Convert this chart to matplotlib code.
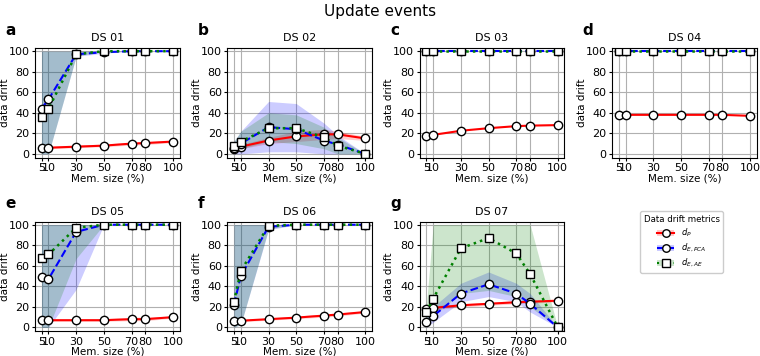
import numpy as np
import matplotlib
matplotlib.use('Agg')
import matplotlib.pyplot as plt
from matplotlib.lines import Line2D
from matplotlib.patches import Patch

# memory sizes (%)
mem = [5, 10, 30, 50, 70, 80, 100]
xtick_labels = ['5', '10', '30', '50', '70', '80', '100']
titles = ['DS 01', 'DS 02', 'DS 03', 'DS 04', 'DS 05', 'DS 06', 'DS 07']
letters = ['a', 'b', 'c', 'd', 'e', 'f', 'g']

# d_P  (mean, low, high)
dp_mean = [
    [6, 6, 7, 8, 10, 10.5, 12],
    [5, 7, 13, 17, 19, 19, 15],
    [17, 18.5, 22.5, 25, 27, 27.5, 28],
    [38, 38, 38, 38, 38, 38, 37],
    [7, 7, 7, 7, 8, 8, 10],
    [6, 6.5, 8, 9.5, 11.5, 12.5, 15],
    [18, 19, 21.5, 23, 24.5, 25, 26],
]
dp_lo = [
    [5, 5, 6, 7, 8.5, 9, 11],
    [3, 5, 10, 12, 14, 15, 13],
    [17, 18.5, 22.5, 25, 27, 27.5, 28],
    [38, 38, 38, 38, 38, 38, 37],
    [6, 6, 6, 6, 6.5, 6.5, 9],
    [5, 5.5, 7, 8.5, 10, 11, 14],
    [16, 17, 20, 21.5, 23, 23.5, 25],
]
dp_hi = [
    [7, 7, 8.5, 9.5, 11.5, 12, 13],
    [7, 9, 16, 22, 24, 22, 17],
    [17, 18.5, 22.5, 25, 27, 27.5, 28],
    [38, 38, 38, 38, 38, 38, 37],
    [8, 8, 8, 8.5, 10, 10, 11],
    [7, 7.5, 9, 11, 13, 14, 16],
    [20, 21, 23, 24.5, 26, 26.5, 27],
]

# d_E,PCA
pca_mean = [
    [44, 53, 97, 99, 100, 100, 100],
    [6, 10, 26, 24, 13, 9, 0],
    [100, 100, 100, 100, 100, 100, 100],
    [100, 100, 100, 100, 100, 100, 100],
    [49, 47, 93, 100, 100, 100, 100],
    [22, 50, 98, 100, 100, 100, 100],
    [5, 11, 33, 42, 33, 23, 0],
]
pca_lo = [
    [0, 0, 95, 98, 100, 100, 100],
    [0, 0, 2, 2, 0, 0, 0],
    [100, 100, 100, 100, 100, 100, 100],
    [100, 100, 100, 100, 100, 100, 100],
    [0, 0, 37, 100, 100, 100, 100],
    [0, 3, 95, 100, 100, 100, 100],
    [0, 5, 25, 30, 25, 15, 0],
]
pca_hi = [
    [100, 100, 100, 100, 100, 100, 100],
    [12, 22, 51, 49, 30, 18, 0],
    [100, 100, 100, 100, 100, 100, 100],
    [100, 100, 100, 100, 100, 100, 100],
    [100, 100, 100, 100, 100, 100, 100],
    [100, 100, 100, 100, 100, 100, 100],
    [10, 20, 43, 54, 43, 33, 0],
]

# d_E,AE
ae_mean = [
    [36, 44, 97, 100, 100, 100, 100],
    [8, 12, 25, 25, 16, 8, 0],
    [100, 100, 100, 100, 100, 100, 100],
    [100, 100, 100, 100, 100, 100, 100],
    [68, 71, 97, 100, 100, 100, 100],
    [25, 55, 99, 100, 100, 100, 100],
    [15, 28, 77, 87, 72, 52, 0],
]
ae_lo = [
    [0, 0, 95, 100, 100, 100, 100],
    [3, 5, 12, 10, 5, 0, 0],
    [100, 100, 100, 100, 100, 100, 100],
    [100, 100, 100, 100, 100, 100, 100],
    [0, 0, 67, 100, 100, 100, 100],
    [0, 3, 96, 100, 100, 100, 100],
    [5, 12, 33, 36, 30, 20, 0],
]
ae_hi = [
    [100, 100, 100, 100, 100, 100, 100],
    [12, 22, 40, 38, 26, 16, 0],
    [100, 100, 100, 100, 100, 100, 100],
    [100, 100, 100, 100, 100, 100, 100],
    [100, 100, 100, 100, 100, 100, 100],
    [100, 100, 100, 100, 100, 100, 100],
    [20, 100, 100, 100, 100, 100, 0],
]

fig, axes = plt.subplots(2, 4, figsize=(7.6, 3.56), dpi=100)
fig.subplots_adjust(left=0.046, right=0.9957, top=0.864, bottom=0.07,
                    wspace=0.33, hspace=0.59)
fig.suptitle('Update events', fontsize=11, y=0.99)

mk = dict(markerfacecolor='white', markeredgecolor='black', markersize=6,
          markeredgewidth=1)

for i, ax in enumerate(axes.flat[:7]):
    ax.fill_between(mem, dp_lo[i], dp_hi[i], color='red', alpha=0.2, lw=0)
    ax.fill_between(mem, pca_lo[i], pca_hi[i], color='blue', alpha=0.2, lw=0)
    ax.fill_between(mem, ae_lo[i], ae_hi[i], color='green', alpha=0.2, lw=0)
    ax.plot(mem, dp_mean[i], '-', color='red', marker='o', lw=1.5, **mk)
    ax.plot(mem, pca_mean[i], '--', color='blue', marker='o', lw=1.5, **mk)
    ax.plot(mem, ae_mean[i], ':', color='green', marker='s', lw=1.8, **mk)
    ax.set_xticks(mem)
    ax.set_xticklabels(xtick_labels)
    ax.set_yticks([0, 20, 40, 60, 80, 100])
    ax.set_ylim(-3.6, 102.7)
    ax.tick_params(labelsize=8, length=2.5, pad=1.5)
    ax.grid(True, color='#b0b0b0', lw=0.8)
    ax.set_axisbelow(True)
    ax.set_title(titles[i], fontsize=8, pad=5)
    ax.set_ylabel('data drift', fontsize=7.5)
    ax.yaxis.set_label_coords(-0.175, 0.5)
    ax.set_xlabel('Mem. size (%)', fontsize=7.5, labelpad=0)
    bb = ax.get_position()
    fig.text(bb.x0 - 0.039, bb.y1 + 0.03, letters[i], fontsize=11,
             fontweight='bold', ha='left', va='bottom')

axes.flat[7].axis('off')
h1 = (Patch(color='red', alpha=0.2, lw=0),
      Line2D([], [], color='red', ls='-', marker='o', **mk))
h2 = (Patch(color='blue', alpha=0.2, lw=0),
      Line2D([], [], color='blue', ls='--', marker='o', **mk))
h3 = (Patch(color='green', alpha=0.2, lw=0),
      Line2D([], [], color='green', ls=':', marker='s', **mk))
fig.legend([h1, h2, h3], ['$d_P$', '$d_{E,PCA}$', '$d_{E,AE}$'],
           title='Data drift metrics', fontsize=6, title_fontsize=6.2,
           loc='upper center', bbox_to_anchor=(0.897, 0.418),
           handlelength=2.0, borderpad=0.4, handletextpad=0.8,
           labelspacing=0.35, markerscale=0.9, framealpha=1)

fig.savefig('out.png', dpi=100)
